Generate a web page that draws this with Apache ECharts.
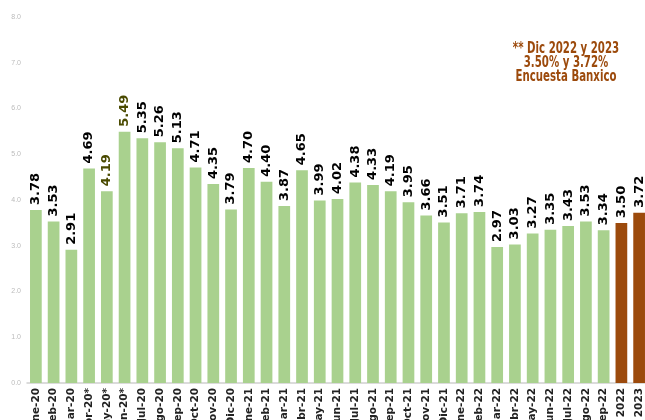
<!DOCTYPE html>
<html>
<head>
<meta charset="utf-8">
<script src="https://cdn.jsdelivr.net/npm/echarts@6/dist/echarts.min.js"></script>
<style>
  html, body { margin: 0; padding: 0; background: #fff; }
  #main { width: 645px; height: 420px; }
</style>
</head>
<body>
<div id="main"></div>
<script>
// meses (los marcados con * van con asterisco como en el original)
const meses = [
  'Ene-20', 'Feb-20', 'Mar-20', 'Abr-20*', 'May-20*', 'Jun-20*', 'Jul-20', 'Ago-20', 'Sep-20',
  'Oct-20', 'Nov-20', 'Dic-20', 'Ene-21', 'Feb-21', 'Mar-21', 'Abr-21', 'May-21', 'Jun-21',
  'Jul-21', 'Ago-21', 'Sep-21', 'Oct-21', 'Nov-21', 'Dic-21', 'Ene-22', 'Feb-22', 'Mar-22',
  'Abr-22', 'May-22', 'Jun-22', 'Jul-22', 'Ago-22', 'Sep-22', '2022', '2023'
];
const inflacion = [
  3.78, 3.53, 2.91, 4.69, 4.19, 5.49, 5.35, 5.26, 5.13,
  4.71, 4.35, 3.79, 4.70, 4.40, 3.87, 4.65, 3.99, 4.02,
  4.38, 4.33, 4.19, 3.95, 3.66, 3.51, 3.71, 3.74, 2.97,
  3.03, 3.27, 3.35, 3.43, 3.53, 3.34, 3.50, 3.72
];
// pronosticos (encuesta Banxico)
const pronosticos = ['2022', '2023'];
// etiquetas con otro color
const resaltados = ['May-20*', 'Jun-20*'];
const nota = ['** Dic 2022 y 2023', '3.50% y 3.72%', 'Encuesta Banxico'];

const verde = '#a9d18e';
const cafe = '#9c4a0c';

const chart = echarts.init(document.getElementById('main'));

const datos = inflacion.map(function (v, i) {
  const esPron = pronosticos.indexOf(meses[i]) >= 0;
  const esRes = resaltados.indexOf(meses[i]) >= 0;
  return {
    value: v,
    itemStyle: { color: esPron ? cafe : verde },
    label: { color: esRes ? '#4a4a00' : '#000' }
  };
});

const option = {
  animation: false,
  grid: { left: 27, right: -3, top: 17, bottom: 37, outerBoundsMode: 'none', containLabel: false },
  xAxis: {
    type: 'category',
    data: meses,
    axisLine: { lineStyle: { color: '#d0d0d0', width: 1.5 } },
    axisTick: { show: false },
    axisLabel: {
      interval: 0,
      rotate: 90,
      margin: 5,
      color: '#222',
      fontSize: 10.5,
      fontWeight: 'bold',
      fontFamily: 'DejaVu Sans'
    }
  },
  yAxis: {
    type: 'value',
    min: 0,
    max: 8,
    interval: 1,
    splitLine: { show: false },
    axisLine: { show: false },
    axisTick: { show: false },
    axisLabel: {
      color: '#bbb',
      fontSize: 7,
      margin: 6,
      formatter: function (v) { return v.toFixed(1); }
    }
  },
  series: [{
    type: 'bar',
    data: datos,
    barWidth: '66%',
    label: {
      show: true,
      position: 'top',
      rotate: 90,
      align: 'left',
      verticalAlign: 'middle',
      distance: 5,
      fontSize: 13,
      fontWeight: 'bold',
      fontFamily: 'DejaVu Sans',
      formatter: function (p) { return p.value.toFixed(2); }
    }
  }],
  graphic: [{
    type: 'text',
    x: 566,
    y: 42,
    scaleX: 0.68,
    style: {
      text: nota.join('\n'),
      align: 'center',
      verticalAlign: 'top',
      fill: cafe,
      font: 'bold 15px "DejaVu Sans", sans-serif',
      lineHeight: 14
    }
  }]
};

chart.setOption(option);
</script>
</body>
</html>
